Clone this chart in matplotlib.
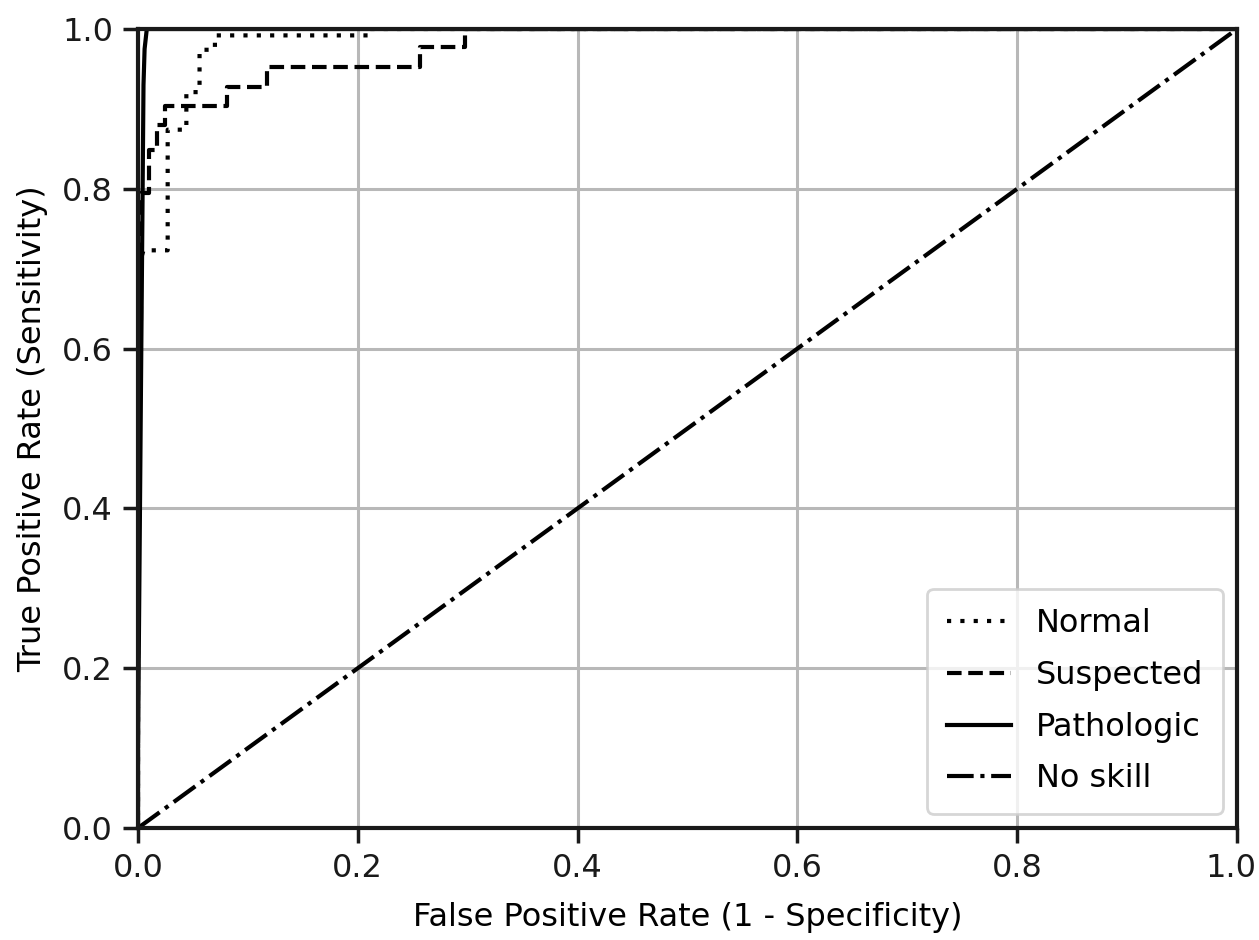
import matplotlib
matplotlib.use("Agg")
import matplotlib.pyplot as plt
from matplotlib.transforms import ScaledTranslation

normal_fpr = [0.0, 0.0, 0.005, 0.027, 0.027, 0.044, 0.044, 0.056, 0.056, 0.070, 0.070, 0.21, 0.21, 1.0]
normal_tpr = [0.0, 0.70, 0.723, 0.723, 0.874, 0.874, 0.921, 0.921, 0.974, 0.974, 0.992, 0.992, 1.0, 1.0]

susp_fpr = [0.0, 0.0, 0.003, 0.003, 0.010, 0.010, 0.017, 0.017, 0.025, 0.025, 0.081, 0.081, 0.117, 0.117, 0.257, 0.257, 0.2975, 0.2975, 1.0]
susp_tpr = [0.0, 0.636, 0.636, 0.795, 0.795, 0.849, 0.849, 0.88, 0.88, 0.904, 0.904, 0.928, 0.928, 0.953, 0.953, 0.978, 0.978, 1.0, 1.0]

path_fpr = [0.0, 0.0, 0.003, 0.005, 0.006, 0.008, 1.0]
path_tpr = [0.0, 0.10, 0.60, 0.93, 0.975, 1.0, 1.0]

skill = [0.0, 1.0]

labels = ["Normal", "Suspected", "Pathologic", "No skill"]
ticks = [0, 0.2, 0.4, 0.6, 0.8, 1.0]
tick_labels = ["0.0", "0.2", "0.4", "0.6", "0.8", "1.0"]

fig = plt.figure(figsize=(12.59, 9.40), dpi=100)
ax = fig.add_axes([138/1259, 1 - 828/940, (1237-138)/1259, (828-29)/940])

lw = 3.0
ax.plot(normal_fpr, normal_tpr, color="black", lw=lw, linestyle=(0, (1, 2.2)), label=labels[0])
ax.plot(susp_fpr, susp_tpr, color="black", lw=lw, linestyle=(0, (3.5, 1.6)), label=labels[1])
ax.plot(path_fpr, path_tpr, color="black", lw=lw, linestyle="-", label=labels[2])
ax.plot(skill, skill, color="black", lw=lw, linestyle=(0, (6.4, 1.6, 1, 1.6)), label=labels[3])

ax.set_xlim(0, 1)
ax.set_ylim(0, 1)
ax.set_xticks(ticks)
ax.set_yticks(ticks)
ax.set_xticklabels(tick_labels)
ax.set_yticklabels(tick_labels)
ax.grid(True, color="#b8b8b8", lw=2.2)
ax.set_axisbelow(True)
for s in ax.spines.values():
    s.set_linewidth(3.0)
    s.set_color("#1a1a1a")
ax.tick_params(labelsize=23, length=11, width=2.5, pad=7, colors="#1a1a1a")
ax.set_xlabel("False Positive Rate (1 - Specificity)", fontsize=23, labelpad=13)
ax.set_ylabel("True Positive Rate (Sensitivity)", fontsize=23, labelpad=10)

last = ax.get_xticklabels()[-1]
last.set_transform(last.get_transform() + ScaledTranslation(-6/100, 0, fig.dpi_scale_trans))

leg = ax.legend(loc="lower right", fontsize=23, frameon=True, handlelength=2.0,
                borderpad=0.6, labelspacing=0.65, handletextpad=0.8, borderaxespad=0.45)
leg.get_frame().set_edgecolor("#cccccc")
leg.get_frame().set_linewidth(2.0)

fig.savefig("out.png", dpi=100)
